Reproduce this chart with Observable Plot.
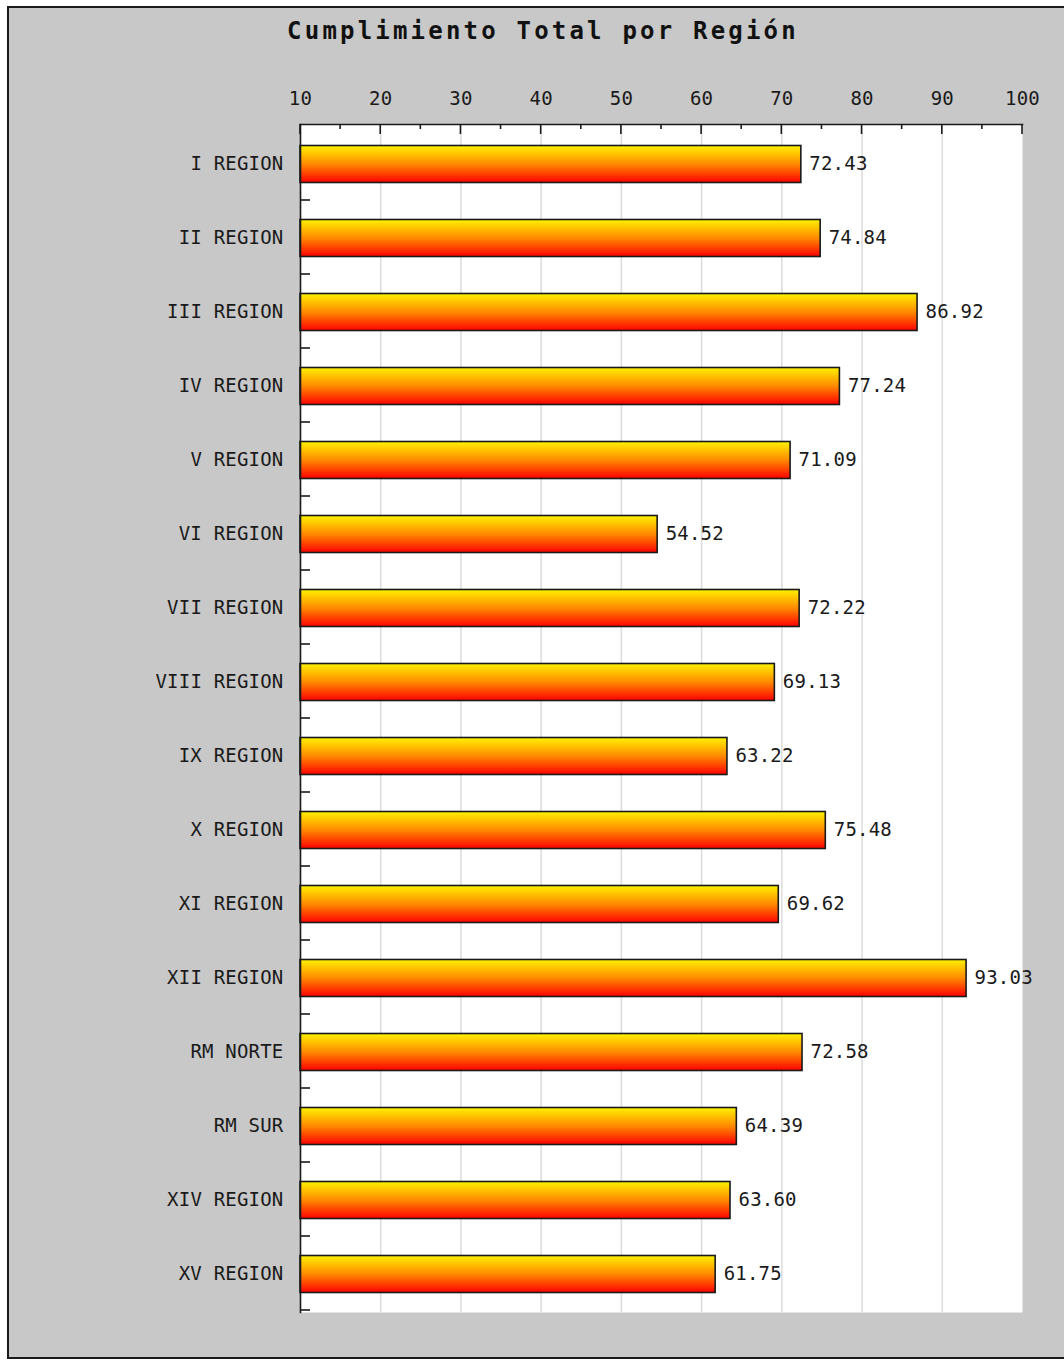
<!DOCTYPE html>
<html>
<head>
<meta charset="utf-8">
<script src="https://cdn.jsdelivr.net/npm/d3@7"></script>
<script src="https://cdn.jsdelivr.net/npm/@observablehq/plot@0.6"></script>
<style>
  html, body { margin: 0; padding: 0; width: 1064px; height: 1360px; overflow: hidden; background: #ffffff; }
  #frame { position: absolute; left: 7px; top: 6px; width: 1100px; height: 1349px;
           border: 2px solid #1a1a1a; background: #c8c8c8; }
  #title { position: absolute; left: 0; top: 0; width: 1068px; height: 60px; line-height: 46px;
           text-align: center; font-family: "DejaVu Sans Mono", monospace; font-weight: bold;
           font-size: 24px; letter-spacing: 3.2px; color: #111; }
  #chart { position: absolute; left: 0; top: 60px; }
  #chart svg { background: transparent; }
</style>
</head>
<body>
<div id="frame">
  <div id="title">Cumplimiento Total por Región</div>
  <div id="chart"></div>
</div>
<script>
const regions = ["I REGION", "II REGION", "III REGION", "IV REGION", "V REGION", "VI REGION",
  "VII REGION", "VIII REGION", "IX REGION", "X REGION", "XI REGION", "XII REGION",
  "RM NORTE", "RM SUR", "XIV REGION", "XV REGION"];
const values = [72.43, 74.84, 86.92, 77.24, 71.09, 54.52, 72.22, 69.13, 63.22, 75.48,
  69.62, 93.03, 72.58, 64.39, 63.60, 61.75];
const xTicks = [10, 20, 30, 40, 50, 60, 70, 80, 90, 100];
const xMinorTicks = [15, 25, 35, 45, 55, 65, 75, 85, 95];
const gridTicks = [20, 30, 40, 50, 60, 70, 80, 90];
const BASE = 10;

const data = regions.map((r, i) => ({region: r, value: values[i]}));

const FONT = "DejaVu Sans Mono, monospace";

const defsMark = () => {
  const defs = d3.create("svg:defs");
  const lg = defs.append("linearGradient").attr("id", "barGrad")
    .attr("x1", 0).attr("y1", 0).attr("x2", 0).attr("y2", 1);
  lg.append("stop").attr("offset", "0%").attr("stop-color", "#fff200");
  lg.append("stop").attr("offset", "50%").attr("stop-color", "#ff8a00");
  lg.append("stop").attr("offset", "100%").attr("stop-color", "#ff0000");
  return defs.node();
};

// top ticks pointing inward
const topTicks = (index, scales, values, dims) => {
  const g = d3.create("svg:g").attr("stroke", "#1a1a1a").attr("stroke-width", 1.6);
  const top = dims.marginTop;
  for (const t of xTicks) {
    const px = scales.x(t);
    g.append("line").attr("x1", px).attr("x2", px).attr("y1", top).attr("y2", top + 10);
  }
  for (const t of xMinorTicks) {
    const px = scales.x(t);
    g.append("line").attr("x1", px).attr("x2", px).attr("y1", top).attr("y2", top + 5);
  }
  return g.node();
};

// left ticks at bottom of each band
const leftTicks = (index, scales, values, dims) => {
  const g = d3.create("svg:g").attr("stroke", "#1a1a1a").attr("stroke-width", 1.6);
  const bw = scales.y.bandwidth ? scales.y.bandwidth() : (scales.y(regions[1]) - scales.y(regions[0]));
  const left = dims.marginLeft;
  for (const r of regions) {
    const py = scales.y(r) + bw;
    g.append("line").attr("x1", left).attr("x2", left + 10).attr("y1", py).attr("y2", py);
  }
  return g.node();
};

const chart = Plot.plot({
  width: 1055,
  height: 1289,
  marginLeft: 291,
  marginRight: 42,
  marginTop: 56,
  marginBottom: 45,
  style: {fontFamily: FONT, fontSize: "19px", color: "#1a1a1a", background: "transparent"},
  x: {domain: [10, 100], label: null},
  y: {domain: regions, padding: 0, label: null},
  marks: [
    defsMark,
    Plot.frame({fill: "white", stroke: null}),
    Plot.ruleX(gridTicks, {stroke: "#dcdcdc", strokeWidth: 1.5}),
    Plot.axisX({anchor: "top", ticks: xTicks, tickSize: 0, tickPadding: 20, label: null,
      tickFormat: d => String(d), fontSize: 19, fill: "#1a1a1a"}),
    Plot.axisY({anchor: "left", tickSize: 0, tickPadding: 17, label: null, fontSize: 19, fill: "#1a1a1a"}),
    Plot.barX(data, {y: "region", x1: () => BASE, x2: "value", fill: "url(#barGrad)",
      stroke: "#1a1a1a", strokeWidth: 1.6, insetTop: 19.5, insetBottom: 17.5}),
    Plot.text(data, {y: "region", x: "value", text: d => d.value.toFixed(2),
      textAnchor: "start", dx: 8, fontSize: 19, fill: "#1a1a1a"}),
    Plot.frame({anchor: "top", stroke: "#1a1a1a", strokeWidth: 1.6}),
    Plot.frame({anchor: "left", stroke: "#1a1a1a", strokeWidth: 1.6}),
    topTicks,
    leftTicks
  ]
});
chart.querySelectorAll("text").forEach(t => t.setAttribute("letter-spacing", "0.2"));
document.getElementById("chart").appendChild(chart);
</script>
</body>
</html>
